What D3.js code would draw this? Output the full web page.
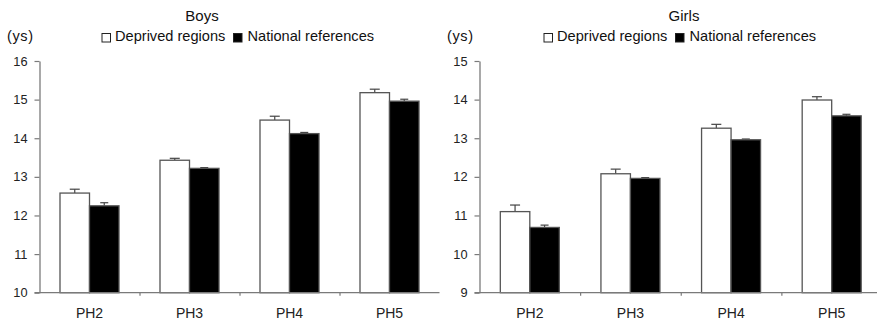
<!DOCTYPE html>
<html>
<head>
<meta charset="utf-8">
<script src="https://cdn.jsdelivr.net/npm/d3@7"></script>
<style>
  body { margin: 0; background: #fff; }
  svg { display: block; font-family: "Liberation Sans", Arial, sans-serif; }
</style>
</head>
<body>
<svg id="chart" width="877" height="324"></svg>
<script>
// ---- data ----
const categories = ["PH2", "PH3", "PH4", "PH5"];
const seriesNames = ["Deprived regions", "National references"];

const boysDeprived = [12.58, 13.43, 14.47, 15.18];
const boysDeprivedErr = [0.10, 0.05, 0.10, 0.09];
const boysNational = [12.25, 13.22, 14.12, 14.96];
const boysNationalErr = [0.08, 0.02, 0.03, 0.05];

const girlsDeprived = [11.10, 12.08, 13.26, 13.99];
const girlsDeprivedErr = [0.17, 0.12, 0.10, 0.085];
const girlsNational = [10.69, 11.96, 12.96, 13.58];
const girlsNationalErr = [0.06, 0.02, 0.02, 0.04];

const boysTicks = [10, 11, 12, 13, 14, 15, 16];
const girlsTicks = [9, 10, 11, 12, 13, 14, 15];

const unitLabel = "(ys)";

// ---- drawing ----
const svg = d3.select("#chart");
const axisColor = "#7a7a7a";

function panel(opts) {
  const g = svg.append("g");
  const yTop = 61, yBottom = 292.7;
  const y = d3.scaleLinear().domain([opts.ticks[0], opts.ticks[opts.ticks.length - 1]]).range([yBottom, yTop]);
  const x = d3.scaleBand().domain(categories).range([opts.x0, opts.x1]);
  const bw = 29.5;

  // title
  g.append("text").attr("x", opts.titleX).attr("y", 21).attr("text-anchor", "middle")
    .attr("font-size", 15).attr("fill", "#111").text(opts.title);
  // unit
  g.append("text").attr("x", opts.unitX).attr("y", 41).attr("font-size", 14.5)
    .attr("letter-spacing", 0.6).attr("fill", "#111").text(unitLabel);

  // legend
  const lx = opts.legendX;
  const leg = [
    { sq: lx, tx: lx + 13.5, fill: "#fff", name: seriesNames[0] },
    { sq: lx + 131.5, tx: lx + 146, fill: "#000", name: seriesNames[1] }
  ];
  leg.forEach(l => {
    g.append("rect").attr("x", l.sq + 0.5).attr("y", 33.5).attr("width", 8.5).attr("height", 8.5)
      .attr("fill", l.fill).attr("stroke", "#222").attr("stroke-width", 1);
    g.append("text").attr("x", l.tx).attr("y", 41).attr("font-size", 14.6).attr("fill", "#111").text(l.name);
  });

  // bars
  const sets = [
    { vals: opts.dep, errs: opts.depErr, off: -bw, fill: "#fff", cap: 10 },
    { vals: opts.nat, errs: opts.natErr, off: 0, fill: "#000", cap: 8 }
  ];
  sets.forEach(s => {
    const cx = (d, i) => x(categories[i]) + x.bandwidth() / 2 + s.off;
    // error bars
    g.selectAll(null).data(s.vals).enter().append("line")
      .attr("x1", (d, i) => cx(d, i) + bw / 2).attr("x2", (d, i) => cx(d, i) + bw / 2)
      .attr("y1", d => y(d)).attr("y2", (d, i) => y(d + s.errs[i]))
      .attr("stroke", "#444").attr("stroke-width", 1.2);
    g.selectAll(null).data(s.vals).enter().append("line")
      .attr("x1", (d, i) => cx(d, i) + bw / 2 - s.cap / 2).attr("x2", (d, i) => cx(d, i) + bw / 2 + s.cap / 2)
      .attr("y1", (d, i) => y(d + s.errs[i])).attr("y2", (d, i) => y(d + s.errs[i]))
      .attr("stroke", "#444").attr("stroke-width", 1.2);
    g.selectAll(null).data(s.vals).enter().append("rect")
      .attr("x", (d, i) => cx(d, i))
      .attr("y", d => y(d))
      .attr("width", bw)
      .attr("height", d => yBottom - y(d))
      .attr("fill", s.fill)
      .attr("stroke", "#555").attr("stroke-width", 1.3);
  });

  // y axis
  const ya = g.append("g").attr("transform", `translate(${opts.x0},0)`)
    .call(d3.axisLeft(y).tickValues(opts.ticks).tickFormat(d3.format("d")).tickSize(5).tickPadding(7).tickSizeOuter(0));
  ya.select(".domain").attr("stroke", axisColor).attr("stroke-width", 1.3);
  ya.selectAll(".tick line").attr("stroke", axisColor).attr("stroke-width", 1.2);
  ya.selectAll(".tick text").attr("font-size", 12.8).attr("fill", "#222").attr("font-family", "Liberation Sans, Arial, sans-serif");

  // x axis: labels
  const xa = g.append("g").attr("transform", `translate(0,${yBottom})`)
    .call(d3.axisBottom(x).tickSize(0).tickPadding(15));
  xa.select(".domain").remove();
  xa.selectAll(".tick text").attr("font-size", 14).attr("fill", "#222").attr("font-family", "Liberation Sans, Arial, sans-serif");

  // x axis: line + boundary ticks
  const xb = d3.scaleLinear().domain([0, categories.length]).range([opts.x0, opts.x1]);
  const xt = g.append("g").attr("transform", `translate(0,${yBottom})`)
    .call(d3.axisBottom(xb).tickValues(d3.range(1, categories.length)).tickFormat("").tickSize(3).tickSizeOuter(0));
  xt.select(".domain").remove();
  xt.selectAll(".tick line").attr("stroke", axisColor).attr("stroke-width", 1.2);
  g.append("line").attr("x1", opts.x0 - 5).attr("x2", Math.min(opts.x1, 877)).attr("y1", yBottom).attr("y2", yBottom)
    .attr("stroke", axisColor).attr("stroke-width", 1.3);
}

panel({
  title: "Boys", titleX: 202, unitX: 7, legendX: 101.5,
  x0: 39.5, x1: 439.5, ticks: boysTicks,
  dep: boysDeprived, depErr: boysDeprivedErr, nat: boysNational, natErr: boysNationalErr
});
panel({
  title: "Girls", titleX: 684, unitX: 447, legendX: 543.5,
  x0: 479.5, x1: 882, ticks: girlsTicks,
  dep: girlsDeprived, depErr: girlsDeprivedErr, nat: girlsNational, natErr: girlsNationalErr
});
</script>
</body>
</html>
